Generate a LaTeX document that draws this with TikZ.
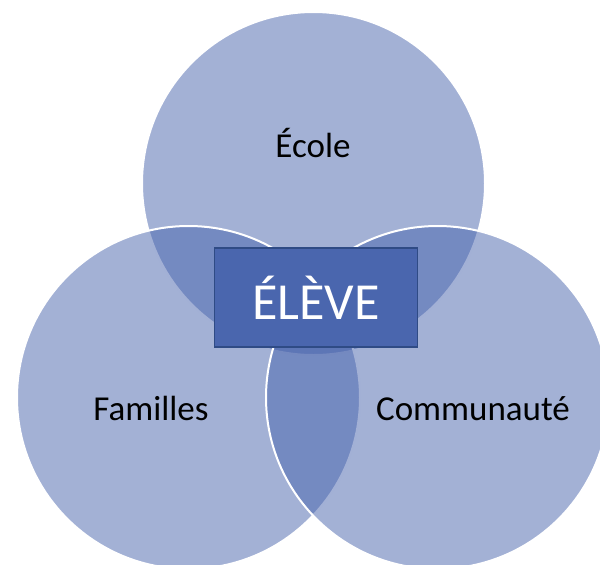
\documentclass[tikz,border=0pt]{standalone}
\usepackage{fontspec}
\setmainfont{Carlito}
\definecolor{circfill}{RGB}{71,99,172}
\definecolor{boxfill}{RGB}{74,102,174}
\definecolor{boxline}{RGB}{47,75,133}
\tikzset{
  venn/.style={circle, minimum size=343pt, inner sep=0pt, fill=circfill, fill opacity=0.5, draw=white, draw opacity=1, line width=2pt},
  lbl/.style={font=\fontsize{35}{40}\selectfont, text=black, anchor=base, inner sep=0pt},
  centerbox/.style={draw=boxline, line width=1.5pt, fill=boxfill, minimum width=203pt, minimum height=99pt, inner sep=0pt, text=white, font=\fontsize{52}{56}\selectfont}
}
\begin{document}
\begin{tikzpicture}[x=1pt,y=-1pt]
\useasboundingbox (0,0) rectangle (600,565);
\begin{scope}
\clip (0,0) rectangle (600,565);
\node[venn] (ecole) at (313.5,183.5) {};
\node[venn] (fam) at (188.5,397.5) {};
\node[venn] (comm) at (437.5,397.5) {};
\end{scope}
\node[lbl] (tecole) at (313,157) {École};
\node[lbl] (tfam) at (151,420) {Familles};
\node[lbl] (tcomm) at (473,420) {Communauté};
\node[centerbox] (eleve) at (316,297.5) {ÉLÈVE};
\end{tikzpicture}
\end{document}
